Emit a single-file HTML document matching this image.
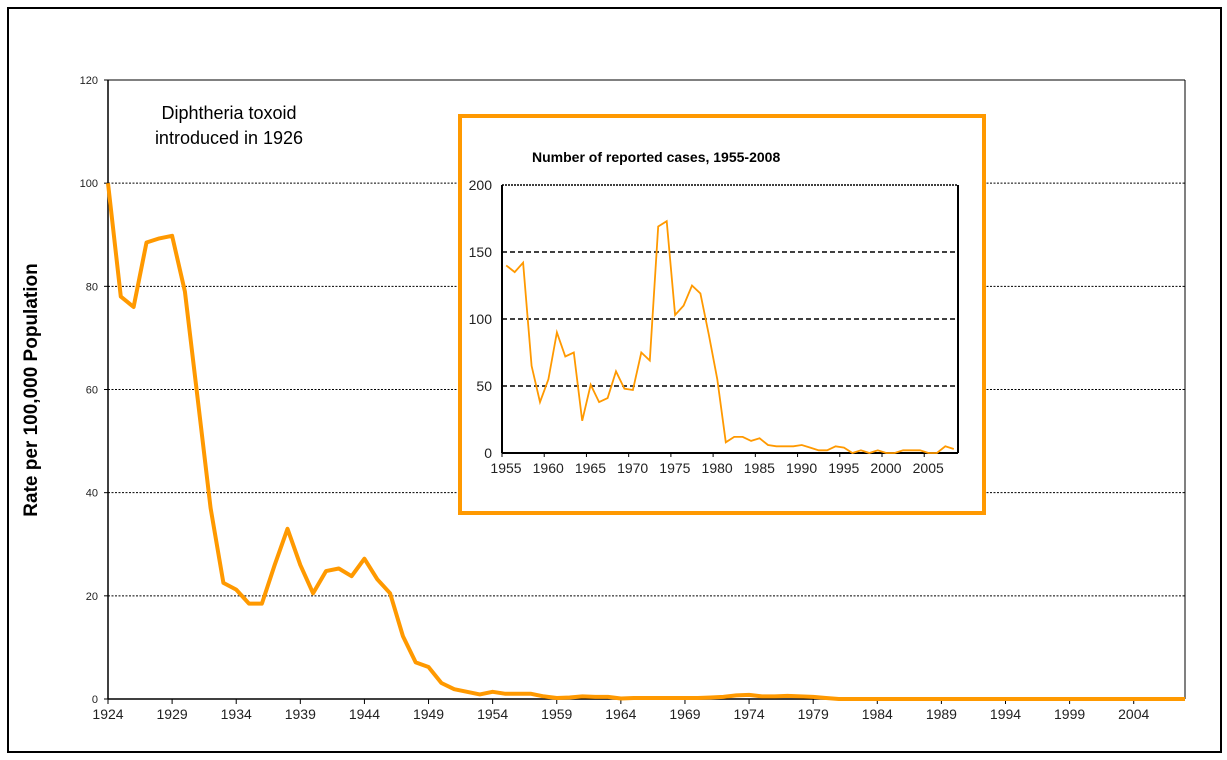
<!DOCTYPE html>
<html><head><meta charset="utf-8"><style>
body{margin:0;background:#fff;}
svg{display:block;font-family:"Liberation Sans",Arial,sans-serif;}
</style></head><body>
<svg id="c" width="1227" height="760" viewBox="0 0 1227 760">
<rect x="8" y="8" width="1213" height="744" fill="none" stroke="#000" stroke-width="2"/>
<g id="main"></g>
<text x="37" y="390" font-size="19" font-weight="bold" text-anchor="middle" transform="rotate(-90 37 390)">Rate per 100,000 Population</text>
<text x="229" y="119" font-size="18" text-anchor="middle">Diphtheria toxoid</text>
<text x="229" y="144" font-size="18" text-anchor="middle">introduced in 1926</text>
<rect x="460" y="116" width="524" height="397" fill="#fff" stroke="#FF9900" stroke-width="4"/>
<text x="532" y="162" font-size="14" font-weight="bold">Number of reported cases, 1955-2008</text>
<g id="inset"></g>
</svg>
<script>
const mainYears = [];
for (let y = 1924; y <= 2008; y++) mainYears.push(y);
const mainRates = [100,78,76,88.5,89.3,89.8,79,58,37,22.5,21.2,18.5,18.5,26,33,26,20.5,24.8,25.3,23.8,27.2,23.2,20.5,12.2,7.1,6.2,3.1,1.9,1.4,0.9,1.4,1.0,1.0,1.0,0.5,0.2,0.3,0.5,0.4,0.4,0.1,0.2,0.2,0.2,0.2,0.2,0.2,0.3,0.4,0.7,0.8,0.5,0.5,0.6,0.5,0.4,0.2,0,0,0,0,0,0,0,0,0,0,0,0,0,0,0,0,0,0,0,0,0,0,0,0,0,0,0,0,0,0];
const mainYTicks = [0,20,40,60,80,100,120];
const insetYears = [];
for (let y = 1955; y <= 2008; y++) insetYears.push(y);
const insetCases = [140,135,142,65,38,55,90,72,75,24,51,38,41,61,48,47,75,69,169,173,103,110,125,119,88,55,8,12,12,9,11,6,5,5,5,6,4,2,2,5,4,0,2,0,2,0,0,2,2,2,0,0,5,3];
const insetYTicks = [0,50,100,150,200];

const NS = "http://www.w3.org/2000/svg";
function mk(tag, attrs, parent, txt) {
  const e = document.createElementNS(NS, tag);
  for (const k in attrs) e.setAttribute(k, attrs[k]);
  if (txt !== undefined) e.textContent = txt;
  parent.appendChild(e);
  return e;
}
const mx0 = 108, mx1 = 1185, my0 = 699, my1 = 80;
const mX = y => mx0 + (y - 1924) * (mx1 - mx0) / 84;
const mY = v => my0 - v * (my0 - my1) / 120;
const G = document.getElementById('main');
mainYTicks.forEach(t => {
  if (t > 0 && t < 120) {
    const l = mk('line', {x1: mx0, x2: mx1, y1: mY(t), y2: mY(t), stroke: '#000', 'stroke-width': 1, 'stroke-dasharray': '2,1.5'}, G);
    
    
  }
  const tx = mk('text', {x: 98, y: mY(t) + 4, 'font-size': 11, 'text-anchor': 'end', fill: '#222'}, G, t);
  
  
  mk('line', {x1: mx0 - 4, x2: mx0, y1: mY(t), y2: mY(t), stroke: '#000'}, G);
});
mk('line', {x1: mx0, x2: mx0, y1: my1, y2: my0, stroke: '#000', 'stroke-width': 1.5}, G);
mk('line', {x1: mx1, x2: mx1, y1: my1, y2: my0, stroke: '#000', 'stroke-width': 1}, G);
mk('line', {x1: mx0, x2: mx1, y1: my1, y2: my1, stroke: '#000', 'stroke-width': 1}, G);
mk('line', {x1: mx0, x2: mx1, y1: my0, y2: my0, stroke: '#000', 'stroke-width': 1.5}, G);
mainYears.forEach(y => {
  if ((y - 1924) % 5 === 0) {
    mk('line', {x1: mX(y), x2: mX(y), y1: my0, y2: my0 + 5, stroke: '#000'}, G);
    const tx = mk('text', {x: mX(y), y: my0 + 20, 'font-size': 14, 'text-anchor': 'middle', fill: '#222'}, G, y);
    
    
  }
});
const mp = mk('polyline', {points: mainRates.map((v, i) => mX(mainYears[i]).toFixed(1) + ',' + mY(v).toFixed(1)).join(' '), fill: 'none', stroke: '#FF9900', 'stroke-width': 4, 'stroke-linejoin': 'round'}, G);



const ix0 = 502, ix1 = 958, iy0 = 453, iy1 = 185;
const cw = (ix1 - ix0) / insetYears.length;
const iX = i => ix0 + (i + 0.5) * cw;
const iY = v => iy0 - v * (iy0 - iy1) / 200;
const I = document.getElementById('inset');
insetYTicks.forEach(t => {
  if (t > 0) {
    const l = mk('line', {x1: ix0, x2: ix1, y1: iY(t), y2: iY(t), stroke: '#000', 'stroke-width': 1.5, 'stroke-dasharray': t === 200 ? '2,1' : '5,3'}, I);
    
    
  }
  const tx = mk('text', {x: 492, y: iY(t) + 5, 'font-size': 14, 'text-anchor': 'end', fill: '#222'}, I, t);
  
  
});
mk('line', {x1: ix0, x2: ix0, y1: iy1, y2: iy0, stroke: '#000', 'stroke-width': 2}, I);
mk('line', {x1: ix1, x2: ix1, y1: iy1, y2: iy0, stroke: '#000', 'stroke-width': 2}, I);
mk('line', {x1: ix0, x2: ix1, y1: iy0, y2: iy0, stroke: '#000', 'stroke-width': 2}, I);
insetYears.forEach((y, i) => {
  if ((y - 1955) % 5 === 0) {
    const x = ix0 + i * cw;
    mk('line', {x1: x, x2: x, y1: iy0, y2: iy0 + 4, stroke: '#000'}, I);
    const tx = mk('text', {x: x + 4, y: iy0 + 20, 'font-size': 14, 'text-anchor': 'middle', fill: '#222'}, I, y);
    
    
  }
});
const ip = mk('polyline', {points: insetCases.map((v, i) => iX(i).toFixed(1) + ',' + iY(v).toFixed(1)).join(' '), fill: 'none', stroke: '#FF9900', 'stroke-width': 1.8}, I);


</script>
</body></html>
